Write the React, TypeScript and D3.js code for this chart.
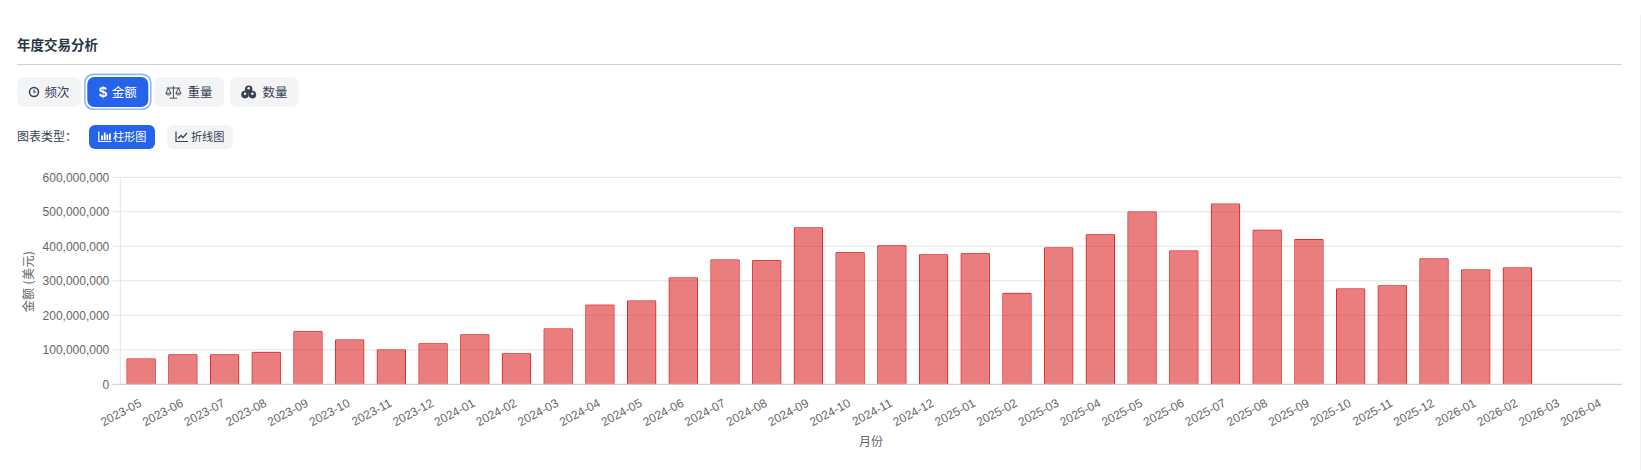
import * as d3 from 'd3';
import React, { useRef, useEffect } from 'react';

const months = [
  '2023-05', '2023-06', '2023-07', '2023-08', '2023-09', '2023-10', '2023-11', '2023-12',
  '2024-01', '2024-02', '2024-03', '2024-04', '2024-05', '2024-06', '2024-07', '2024-08',
  '2024-09', '2024-10', '2024-11', '2024-12', '2025-01', '2025-02', '2025-03', '2025-04',
  '2025-05', '2025-06', '2025-07', '2025-08', '2025-09', '2025-10', '2025-11', '2025-12',
  '2026-01', '2026-02', '2026-03', '2026-04',
];

// millions of USD; last two months are empty
const amounts = [
  75, 87, 87, 94, 154, 130, 101, 119,
  145, 90, 162, 231, 243, 310, 362, 360,
  455, 383, 403, 377, 380, 265, 397, 435,
  501, 388, 524, 448, 421, 278, 287, 365,
  333, 339, 0, 0,
];

const yTicks = [0, 100, 200, 300, 400, 500, 600];

const cjk = '"Noto Sans CJK SC", "Noto Sans", sans-serif';
const latin = '"Liberation Sans", Arial, sans-serif';

const metricButtons = [
  { label: '频次', icon: 'clock', x: 17, w: 64 },
  { label: '金额', icon: 'dollar', x: 87.3, w: 61, active: true },
  { label: '重量', icon: 'scale', x: 154, w: 70 },
  { label: '数量', icon: 'cubes', x: 230, w: 69 },
];

const typeButtons = [
  { label: '柱形图', icon: 'bars', x: 89, w: 66, active: true },
  { label: '折线图', icon: 'line', x: 167, w: 66 },
];

const iconOffset: any = { clock: 17, dollar: 15.7, scale: 19.4, cubes: 18.7, bars: 16, line: 15 };

function drawIcon(g: any, name: string, x: number, y: number, color: string) {
  const i = g.append('g').attr('transform', `translate(${x}, ${y})`);
  if (name === 'clock') {
    i.append('circle').attr('r', 4.5).attr('fill', 'none').attr('stroke', color).attr('stroke-width', 1.5);
    i.append('path').attr('d', 'M0,-2.6V0.3H2').attr('fill', 'none').attr('stroke', color).attr('stroke-width', 1.1);
  } else if (name === 'dollar') {
    i.append('text').attr('text-anchor', 'middle').attr('y', 5.2).attr('font-family', latin)
      .attr('font-size', 15).attr('font-weight', 700).attr('fill', color).text('$');
  } else if (name === 'scale') {
    i.append('path')
      .attr('d', 'M-7,-4H7M0,-6V6M-3.8,6.2H3.8M-5,-4L-7.4,1.2M-5,-4L-2.6,1.2M5,-4L2.6,1.2M5,-4L7.4,1.2M-7.6,1.2C-7,3.6 -3,3.6 -2.4,1.2ZM2.4,1.2C3,3.6 7,3.6 7.6,1.2Z')
      .attr('fill', 'none').attr('stroke', color).attr('stroke-width', 0.9);
  } else if (name === 'cubes') {
    [[0, -2.8], [-3.7, 2.6], [3.7, 2.6]].forEach(([cx, cy]) => {
      i.append('circle').attr('cx', cx).attr('cy', cy).attr('r', 3.8).attr('fill', color);
      i.append('circle').attr('cx', cx).attr('cy', cy - 0.9).attr('r', 1.3).attr('fill', '#f3f4f6');
    });
  } else if (name === 'bars') {
    i.append('path').attr('d', 'M-6.2,-5V5H6.6').attr('fill', 'none').attr('stroke', color).attr('stroke-width', 1.2);
    [[-3.8, -1, 5], [-1.2, -4, 8], [1.4, -2, 6], [4, -3, 7]].forEach(([bx, by, bh]) => {
      i.append('rect').attr('x', bx).attr('y', by).attr('width', 1.8).attr('height', bh - 0.4).attr('fill', color);
    });
  } else {
    i.append('path').attr('d', 'M-6,-5V5H6').attr('fill', 'none').attr('stroke', color).attr('stroke-width', 1.2);
    i.append('path').attr('d', 'M-4,2L-1,-1L1,1L5,-3.5').attr('fill', 'none').attr('stroke', color).attr('stroke-width', 1.3);
  }
}

const App = () => {
  const svgRef = useRef<SVGSVGElement>(null);

  useEffect(() => {
    const svg = d3.select(svgRef.current);
    svg.selectAll('*').remove();

    const left = 120.3, right = 1621.7, top = 177.3, bottom = 384.3;

    // card edge, barely visible on the right
    svg.append('rect').attr('x', 1640).attr('y', 15).attr('width', 1).attr('height', 455).attr('fill', '#f2f2f5');

    // header
    svg.append('text').attr('x', 17).attr('y', 50).attr('font-family', cjk)
      .attr('font-size', 13.5).attr('font-weight', 700).attr('fill', '#2b3544').text('年度交易分析');
    svg.append('line').attr('x1', 17).attr('x2', 1622).attr('y1', 64.5).attr('y2', 64.5)
      .attr('stroke', '#d1d1dc');

    // metric buttons
    metricButtons.forEach((b) => {
      const g = svg.append('g');
      if (b.active) {
        g.append('rect').attr('x', b.x - 3.3).attr('y', 73.5).attr('width', b.w + 6.6).attr('height', 36.6)
          .attr('rx', 9).attr('fill', '#93b8fb');
        g.append('rect').attr('x', b.x - 1.7).attr('y', 75.2).attr('width', b.w + 3.4).attr('height', 33.2)
          .attr('rx', 8).attr('fill', '#fff');
      }
      g.append('rect').attr('x', b.x).attr('y', 77).attr('width', b.w).attr('height', 30).attr('rx', 7)
        .attr('fill', b.active ? '#2563eb' : '#f3f4f6');
      const color = b.active ? '#fff' : '#374151';
      drawIcon(g, b.icon, b.x + iconOffset[b.icon], 92, color);
      g.append('text').attr('x', b.x + b.w - 11.5).attr('y', 96.5).attr('text-anchor', 'end')
        .attr('font-family', cjk).attr('font-size', 12.5).attr('fill', color).text(b.label);
    });

    // chart type row
    svg.append('text').attr('x', 17).attr('y', 141).attr('font-family', cjk)
      .attr('font-size', 12).attr('fill', '#374151').text('图表类型：');
    typeButtons.forEach((b) => {
      const g = svg.append('g');
      g.append('rect').attr('x', b.x).attr('y', 125).attr('width', b.w).attr('height', 24).attr('rx', 6)
        .attr('fill', b.active ? '#2563eb' : '#f3f4f6');
      const color = b.active ? '#fff' : '#374151';
      drawIcon(g, b.icon, b.x + iconOffset[b.icon], 136.5, color);
      g.append('text').attr('x', b.x + b.w - 8.5).attr('y', 141).attr('text-anchor', 'end')
        .attr('font-family', cjk).attr('font-size', 11.2).attr('fill', color).text(b.label);
    });

    // chart
    const x = d3.scaleBand().domain(months).range([left, right]);
    const y = d3.scaleLinear().domain([0, 600]).range([bottom, top]);
    const barW = x.bandwidth() * 0.7;
    const barX = (i: number) => (x(months[i]) as number) + (x.bandwidth() - barW) / 2;

    const grid = svg.append('g');
    grid.selectAll('line.h').data(yTicks.filter((d) => d > 0)).join('line').attr('class', 'h')
      .attr('x1', left - 8).attr('x2', right)
      .attr('y1', (d: number) => y(d)).attr('y2', (d: number) => y(d))
      .attr('stroke', '#e4e4e4').attr('stroke-width', 1);
    grid.append('line').attr('x1', left).attr('x2', left).attr('y1', top).attr('y2', bottom)
      .attr('stroke', '#e4e4e4');

    const shown = amounts.filter((d) => d > 0);

    svg.append('g').selectAll('rect').data(shown).join('rect')
      .attr('x', (_: number, i: number) => barX(i) + 1)
      .attr('y', (d: number) => y(d) + 1)
      .attr('width', barW - 2)
      .attr('height', (d: number) => bottom - y(d) - 1)
      .attr('fill', 'rgba(220, 38, 38, 0.6)');

    // border on top and sides only, the base stays open
    svg.append('g').selectAll('path').data(shown).join('path')
      .attr('d', (d: number, i: number) => {
        const x0 = barX(i) + 0.5, x1 = barX(i) + barW - 0.5, t = y(d) + 0.5;
        return `M${x0},${bottom}V${t}H${x1}V${bottom}`;
      })
      .attr('fill', 'none')
      .attr('stroke', '#dc2626')
      .attr('stroke-width', 1);

    svg.append('line').attr('x1', left - 8).attr('x2', right).attr('y1', bottom).attr('y2', bottom)
      .attr('stroke', '#c9c9c9');

    svg.append('g').selectAll('text').data(yTicks).join('text')
      .attr('x', left - 11).attr('y', (d: number) => y(d) + 4.2).attr('text-anchor', 'end')
      .attr('font-family', latin).attr('font-size', 12).attr('fill', '#666')
      .text((d: number) => d3.format(',')(d * 1000000));

    svg.append('g').selectAll('text').data(months).join('text')
      .attr('text-anchor', 'end')
      .attr('transform', (d: string) => `translate(${(x(d) as number) + x.bandwidth() / 2 + 1.2}, 405.7) rotate(-28)`)
      .attr('font-family', latin).attr('font-size', 12).attr('fill', '#666')
      .text((d: string) => d);

    svg.append('text').attr('transform', `translate(32.5, 281.5) rotate(-90)`)
      .attr('text-anchor', 'middle').attr('font-family', cjk).attr('font-size', 12)
      .attr('letter-spacing', 0.4).attr('fill', '#666')
      .text('金额 (美元)');
    svg.append('text').attr('x', (left + right) / 2).attr('y', 446)
      .attr('text-anchor', 'middle').attr('font-family', cjk).attr('font-size', 12).attr('fill', '#666')
      .text('月份');
  }, []);

  return (
    <svg ref={svgRef} width={1641} height={470}
      style={{ position: 'absolute', left: 0, top: 0, background: '#fff' }} />
  );
};

export default App;
